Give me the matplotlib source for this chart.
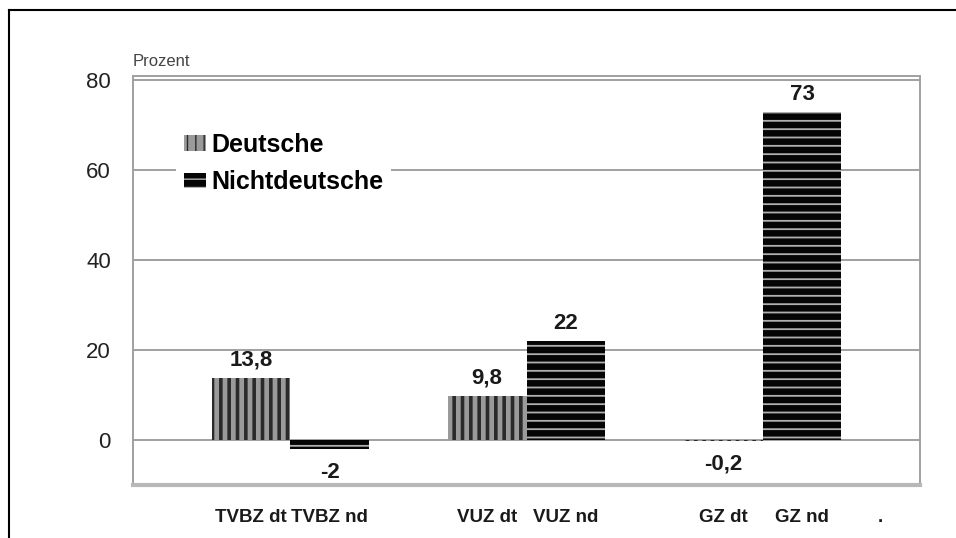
import matplotlib
matplotlib.use('Agg')
import matplotlib.pyplot as plt
from matplotlib.lines import Line2D
from matplotlib.patches import Patch

# Data
labels = ['TVBZ dt', 'TVBZ nd', 'VUZ dt', 'VUZ nd', 'GZ dt', 'GZ nd', '.']
groups = ['Deutsche', 'Nichtdeutsche', 'Deutsche', 'Nichtdeutsche', 'Deutsche', 'Nichtdeutsche']
values = [13.8, -2, 9.8, 22, -0.2, 73]
value_text = ['13,8', '-2', '9,8', '22', '-0,2', '73']
positions = [0, 1, 3, 4, 6, 7]
yticks = [0, 20, 40, 60, 80]

plt.rcParams['font.family'] = ['Liberation Sans', 'DejaVu Sans']

styles = {
    'Deutsche': dict(facecolor='#9a9a9a', edgecolor='#2a2a2a', hatch='||', hlw=2.6),
    'Nichtdeutsche': dict(facecolor='#050505', edgecolor='#b0b0b0', hatch='--', hlw=1.3),
}

fig = plt.figure(figsize=(9.56, 5.38), dpi=100)
ax = fig.add_axes([133/956, 1 - 485/538, (920 - 133)/956, (485 - 76)/538])

ax.set_ylim(-10, 80.9)
ax.set_xlim(-1.5, 8.5)

# grid lines
for y in yticks:
    ax.axhline(y, color='#a0a0a0', lw=1.4, zorder=1)

for x, v, g, t in zip(positions, values, groups, value_text):
    st = styles[g]
    with plt.rc_context({'hatch.linewidth': st['hlw']}):
        ax.bar(x, v, width=1.0, facecolor=st['facecolor'], edgecolor=st['edgecolor'],
               hatch=st['hatch'], linewidth=0, zorder=3)
    if v >= 0:
        ax.annotate(t, (x, v), xytext=(0, 5), textcoords='offset points',
                    ha='center', va='bottom', fontsize=16, fontweight='bold', color='#1a1a1a')
    else:
        ax.annotate(t, (x, v), xytext=(0, -9), textcoords='offset points',
                    ha='center', va='top', fontsize=16, fontweight='bold', color='#1a1a1a')

ax.set_yticks(yticks)
ax.set_yticklabels([str(y) for y in yticks], fontsize=16, color='#222222')
ax.set_xticks(positions + [8])
ax.set_xticklabels(labels, fontsize=13.5, fontweight='bold', color='#1a1a1a')
ax.tick_params(axis='both', length=0)
ax.tick_params(axis='y', pad=16)
ax.tick_params(axis='x', pad=17)

for s in ax.spines.values():
    s.set_color('#a0a0a0')
    s.set_linewidth(1.4)
ax.spines['bottom'].set_linewidth(3)
ax.spines['bottom'].set_color('#b8b8b8')

fig.text(133/956, 1 - 61/538, 'Prozent', fontsize=12, color='#444444', va='center', ha='left')

# legend
handles = []
for g in ['Deutsche', 'Nichtdeutsche']:
    st = styles[g]
    with plt.rc_context({'hatch.linewidth': st['hlw']}):
        handles.append(Patch(facecolor=st['facecolor'], edgecolor=st['edgecolor'],
                             hatch=st['hatch'], linewidth=0, label=g))
leg = fig.legend(handles=handles, loc='upper left', bbox_to_anchor=(176/956, 1 - 125/538),
                 frameon=True, facecolor='white', edgecolor='none', framealpha=1,
                 prop={'size': 18, 'weight': 'bold'}, handlelength=0.9, handleheight=0.6,
                 handletextpad=0.2, labelspacing=0.55, borderpad=0.3, borderaxespad=0)
leg.set_zorder(5)

# outer frame
fig.add_artist(Line2D([9/956, 9/956], [0, 1 - 10/538], color='black', lw=1.5))
fig.add_artist(Line2D([9/956, 1], [1 - 10/538, 1 - 10/538], color='black', lw=1.5))

fig.savefig('out.png', dpi=100)
